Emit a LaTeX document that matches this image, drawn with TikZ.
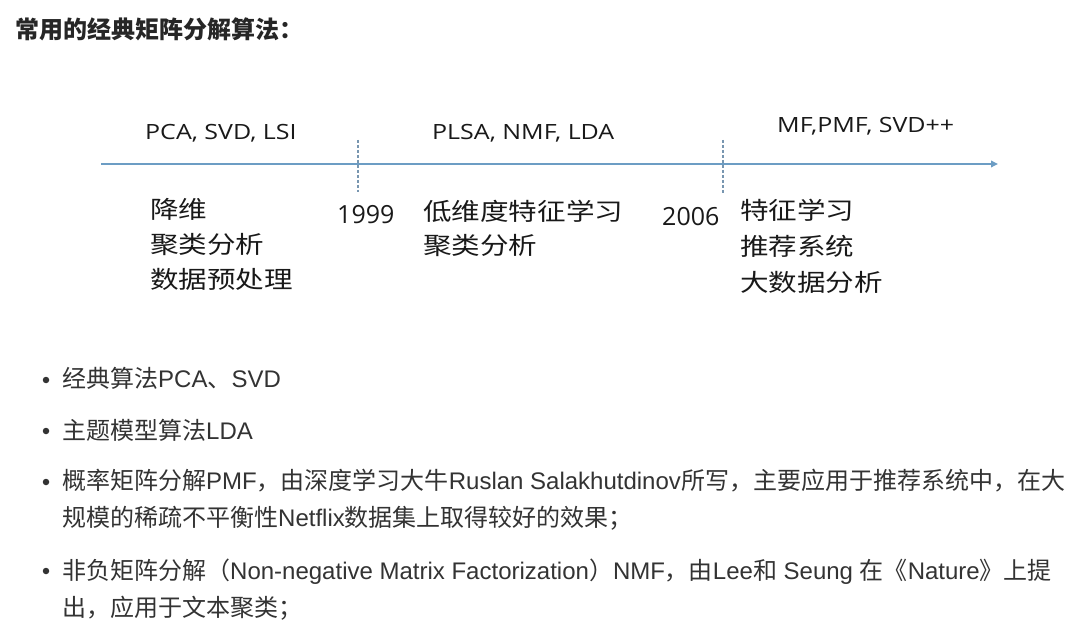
\documentclass[tikz,border=0pt]{standalone}
\usepackage{fontspec}
\usepackage{graphicx}
\setmainfont{Liberation Sans}
\newfontfamily\zhfont{Noto Sans CJK SC}
\newfontfamily\tlfont{Open Sans}
\usetikzlibrary{arrows.meta, positioning}
\definecolor{txtgray}{HTML}{333333}
\definecolor{axisblue}{HTML}{6C9DC4}
\definecolor{tickblue}{HTML}{7896B0}
\newcommand{\zh}[1]{{\zhfont #1}}
\newcommand{\wide}[1]{\scalebox{1.19}[1]{#1}}

\begin{document}
\begin{tikzpicture}[x=1pt, y=-1pt,
  body/.style={anchor=base west, inner sep=0pt, text=txtgray,
    font=\fontsize{24}{24}\selectfont},
  heading/.style={body, text=black!85, font=\zhfont\bfseries\fontsize{24}{24}\selectfont},
  era/.style={anchor=base west, inner sep=0pt, text=black!90,
    font=\tlfont\fontsize{21}{21}\selectfont},
  topic/.style={anchor=base west, inner sep=0pt, text=black!90,
    font=\zhfont\fontsize{24}{24}\selectfont},
  year/.style={anchor=base west, inner sep=0pt, text=black!90,
    font=\tlfont\fontsize{25}{25}\selectfont},
  bulletdot/.style={circle, fill=txtgray, inner sep=0pt, minimum size=6.5pt}]
  \useasboundingbox (0,0) rectangle (1072,631);
  \fill[white] (0,0) rectangle (1072,631);

  % Heading
  \node[heading] (title) at (15,39) {常用的经典矩阵分解算法：};

  % Timeline
  \coordinate (axs) at (101,164);
  \coordinate (axe) at (998,164);
  \coordinate (t1a) at (358,140);
  \coordinate (t1b) at (358,192);
  \coordinate (t2a) at (723,140);
  \coordinate (t2b) at (723,193);
  \draw[axisblue, line width=2.4pt, -{Triangle[length=7pt, width=6.5pt]}] (axs) -- (axe);
  \draw[tickblue, line width=1.4pt, dash pattern=on 3pt off 2pt] (t1a) -- (t1b);
  \draw[tickblue, line width=1.4pt, dash pattern=on 3pt off 2pt] (t2a) -- (t2b);

  % Methods above the axis
  \node[era] (pca) at (145,139.5) {\wide{PCA, SVD, LSI}};
  \node[era] (plsa) at (432,139.5) {\wide{PLSA, NMF, LDA}};
  \node[era] (mf) at (777,132.5) {\wide{MF,PMF, SVD++}};

  % Years
  \node[year] (y1999) at (337,224) {1999};
  \node[year] (y2006) at (662,226) {2006};

  % Uses below the axis
  \node[topic] (l1) at (150,219) {\wide{降维}};
  \node[topic] (l2) at (150,254) {\wide{聚类分析}};
  \node[topic] (l3) at (150,289) {\wide{数据预处理}};
  \node[topic] (m1) at (423,221) {\wide{低维度特征学习}};
  \node[topic] (m2) at (423,255) {\wide{聚类分析}};
  \node[topic] (r1) at (740,220) {\wide{特征学习}};
  \node[topic] (r2) at (740,256) {\wide{推荐系统}};
  \node[topic] (r3) at (740,292) {\wide{大数据分析}};

  % Bullet list
  \node[bulletdot] (d1) at (46,380) {};
  \node[bulletdot] (d2) at (46,431) {};
  \node[bulletdot] (d3) at (46,482) {};
  \node[bulletdot] (d4) at (46,571) {};
  \node[body] (b1) at (62,387.5) {\zh{经典算法}PCA\zh{、}SVD};
  \node[body] (b2) at (62,439) {\zh{主题模型算法}LDA};
  \node[body] (b3) at (62,489) {\zh{概率矩阵分解}PMF\zh{，由深度学习大牛}Ruslan Salakhutdinov\zh{所写，主要应用于推荐系统中，在大}};
  \node[body] (b3b) at (62,526) {\zh{规模的稀疏不平衡性}Netflix\zh{数据集上取得较好的效果；}};
  \node[body] (b4) at (62,579) {\zh{非负矩阵分解（}Non-negative Matrix Factorization\zh{）}NMF\zh{，由}Lee\zh{和} Seung \zh{在《}Nature\zh{》上提}};
  \node[body] (b4b) at (62,616) {\zh{出，应用于文本聚类；}};
\end{tikzpicture}
\end{document}
